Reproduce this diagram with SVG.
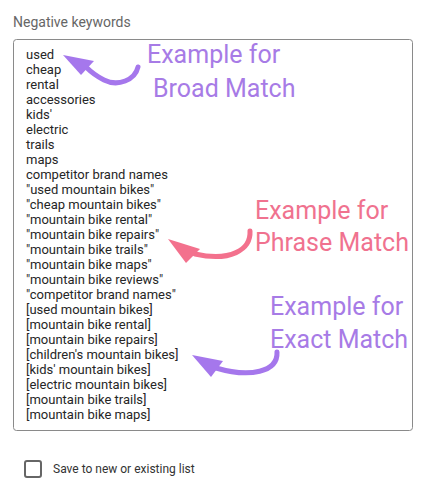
<svg xmlns="http://www.w3.org/2000/svg" width="437" height="494" viewBox="0 0 437 494">
<style>
.lbl{font-family:Roboto,"Liberation Sans",sans-serif;font-size:14px;fill:#666}
.kw{font-family:Roboto,"Liberation Sans",sans-serif;font-size:13px;fill:#262626}
.ann{font-family:Roboto,"Liberation Sans",sans-serif;font-size:25px}
.purple{fill:#a77be6}
.pink{fill:#f0728f}
.shaftP{fill:none;stroke:#a577ec;stroke-width:5;stroke-linecap:round}
.shaftK{fill:none;stroke:#f3718d;stroke-width:5;stroke-linecap:round}
.cb{font-family:Roboto,"Liberation Sans",sans-serif;font-size:12px;fill:#333}
</style>
<rect width="437" height="494" fill="#fff"/>
<g id="title"><text class="lbl" x="13" y="27">Negative keywords</text></g>
<g id="keywords-box">
<rect x="13.5" y="39.5" width="399" height="391" rx="3" fill="#fff" stroke="#8a8a8a" stroke-width="1"/>
<text class="kw">
<tspan x="26" y="58.5">used</tspan>
<tspan x="26" y="73.5">cheap</tspan>
<tspan x="26" y="88.5">rental</tspan>
<tspan x="26" y="103.5">accessories</tspan>
<tspan x="26" y="118.5">kids'</tspan>
<tspan x="26" y="133.5">electric</tspan>
<tspan x="26" y="148.5">trails</tspan>
<tspan x="26" y="163.5">maps</tspan>
<tspan x="26" y="178.5">competitor brand names</tspan>
<tspan x="26" y="193.5">"used mountain bikes"</tspan>
<tspan x="26" y="208.5">"cheap mountain bikes"</tspan>
<tspan x="26" y="223.5">"mountain bike rental"</tspan>
<tspan x="26" y="238.5">"mountain bike repairs"</tspan>
<tspan x="26" y="253.5">"mountain bike trails"</tspan>
<tspan x="26" y="268.5">"mountain bike maps"</tspan>
<tspan x="26" y="283.5">"mountain bike reviews"</tspan>
<tspan x="26" y="298.5">"competitor brand names"</tspan>
<tspan x="26" y="313.5">[used mountain bikes]</tspan>
<tspan x="26" y="328.5">[mountain bike rental]</tspan>
<tspan x="26" y="343.5">[mountain bike repairs]</tspan>
<tspan x="26" y="358.5">[children's mountain bikes]</tspan>
<tspan x="26" y="373.5">[kids' mountain bikes]</tspan>
<tspan x="26" y="388.5">[electric mountain bikes]</tspan>
<tspan x="26" y="403.5">[mountain bike trails]</tspan>
<tspan x="26" y="418.5">[mountain bike maps]</tspan>
</text>
</g>
<g id="broad-label"><text class="ann purple"><tspan x="147" y="63">Example for</tspan><tspan x="153" y="97">Broad Match</tspan></text></g>
<g id="phrase-label"><text class="ann pink"><tspan x="255" y="219">Example for</tspan><tspan x="255" y="251">Phrase Match</tspan></text></g>
<g id="exact-label"><text class="ann purple"><tspan x="270" y="315">Example for</tspan><tspan x="270" y="348">Exact Match</tspan></text></g>
<g id="connectors">
<path class="shaftP" d="M138,67 C135,80 118,87 104,80 C96,76 90,71 86,67"/>
<polygon points="63,55 94,61 81,75" fill="#a577ec"/>
<path class="shaftK" d="M250,231 C251,250 230,262 195,254"/>
<polygon points="168,239 200,249 186,263" fill="#f3718d"/>
<path class="shaftP" d="M277,352 C278,372 250,378 216,368"/>
<polygon points="192,355 223,361 211,377" fill="#a577ec"/>
</g>
<g id="checkbox">
<rect x="25" y="461" width="16" height="16" rx="2" fill="#fff" stroke="#666" stroke-width="2"/>
<text class="cb" x="53" y="473">Save to new or existing list</text>
</g>
</svg>
